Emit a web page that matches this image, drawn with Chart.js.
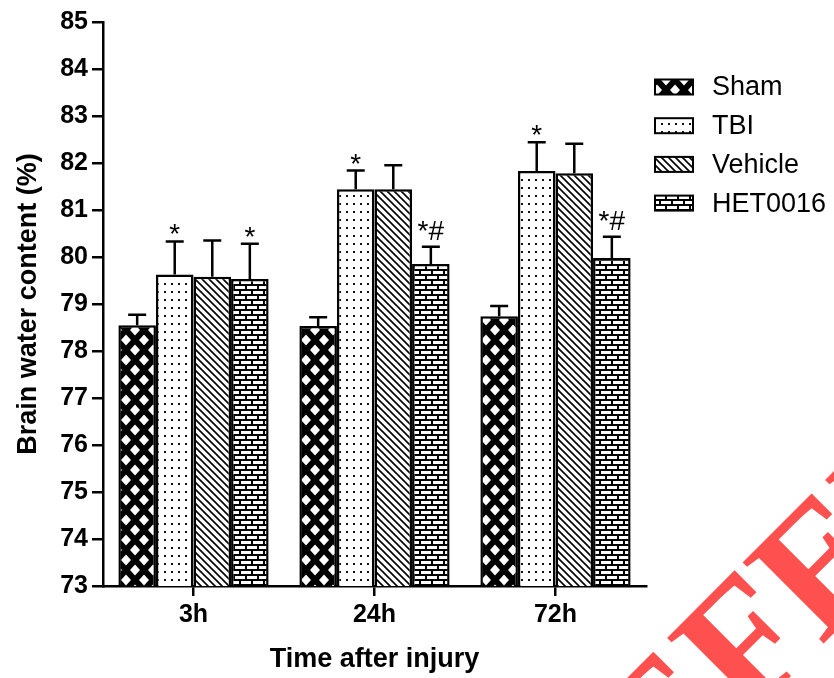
<!DOCTYPE html>
<html>
<head>
<meta charset="utf-8">
<script src="https://cdn.jsdelivr.net/npm/chart.js@4.4.1/dist/chart.umd.min.js"></script>
<style>
  html, body { margin: 0; padding: 0; background: #fff; }
  #wrap { width: 834px; height: 678px; }
</style>
</head>
<body>
<div id="wrap"><canvas id="bar_chart"></canvas></div>
<script>
const timepoints = ["3h", "24h", "72h"];

const shamMean = [78.55, 78.53, 78.74];
const shamErr = [0.22, 0.19, 0.22];
const shamMarks = ["", "", ""];

const tbiMean = [79.63, 81.44, 81.83];
const tbiErr = [0.70, 0.40, 0.61];
const tbiMarks = ["*", "*", "*"];

const vehicleMean = [79.58, 81.44, 81.78];
const vehicleErr = [0.77, 0.51, 0.63];
const vehicleMarks = ["", "", ""];

const hetMean = [79.53, 79.85, 79.98];
const hetErr = [0.75, 0.37, 0.45];
const hetMarks = ["*", "*#", "*#"];

const FONT = "'Liberation Sans', Arial, sans-serif";

function makePattern(w, h, paint) {
  const c = document.createElement("canvas");
  c.width = w;
  c.height = h;
  const g = c.getContext("2d");
  paint(g, w, h);
  return g.createPattern(c, "repeat");
}

// crosshatch: black with white diamonds
const shamFill = makePattern(18, 20, (g, w, h) => {
  g.fillStyle = "#000";
  g.fillRect(0, 0, w, h);
  g.fillStyle = "#fff";
  const dia = (cx, cy) => {
    g.beginPath();
    g.moveTo(cx, cy - 5.5);
    g.lineTo(cx + 5, cy);
    g.lineTo(cx, cy + 5.5);
    g.lineTo(cx - 5, cy);
    g.closePath();
    g.fill();
  };
  [[0, 0], [18, 0], [0, 20], [18, 20], [9, 10]].forEach(([x, y]) => dia(x, y));
});

// dots
const tbiFill = makePattern(7, 8, (g, w, h) => {
  g.fillStyle = "#fff";
  g.fillRect(0, 0, w, h);
  g.fillStyle = "#111";
  g.fillRect(3, 3, 2, 2);
});

// diagonal lines
const vehicleFill = makePattern(7, 7, (g, w, h) => {
  g.fillStyle = "#fff";
  g.fillRect(0, 0, w, h);
  g.strokeStyle = "#000";
  g.lineWidth = 1.6;
  g.beginPath();
  for (const o of [-7, 0, 7]) {
    g.moveTo(o - 1, -1);
    g.lineTo(o + 8, 8);
  }
  g.stroke();
});

// bricks
const hetFill = makePattern(24, 10, (g, w, h) => {
  g.fillStyle = "#000";
  g.fillRect(0, 0, w, h);
  g.fillStyle = "#fff";
  g.fillRect(1, 1, 10, 3);
  g.fillRect(13, 1, 10, 3);
  g.fillRect(0, 6, 5, 3);
  g.fillRect(7, 6, 10, 3);
  g.fillRect(19, 6, 5, 3);
});

const errorBars = {
  id: "errorBars",
  afterDatasetsDraw(chart) {
    const ctx = chart.ctx;
    const y = chart.scales.y;
    ctx.save();
    ctx.strokeStyle = "#000";
    ctx.lineWidth = 2.5;
    ctx.fillStyle = "#000";
    ctx.font = "28px " + FONT;
    ctx.textAlign = "center";
    ctx.textBaseline = "alphabetic";
    chart.data.datasets.forEach((ds, i) => {
      chart.getDatasetMeta(i).data.forEach((bar, j) => {
        const top = y.getPixelForValue(ds.data[j] + ds.err[j]);
        ctx.beginPath();
        ctx.moveTo(bar.x, bar.y);
        ctx.lineTo(bar.x, top);
        ctx.moveTo(bar.x - 9, top);
        ctx.lineTo(bar.x + 9, top);
        ctx.stroke();
        const mark = ds.marks[j];
        if (mark) {
          const m = ctx.measureText(mark);
          ctx.fillText(mark, bar.x, top - 7 - m.actualBoundingBoxDescent);
        }
      });
    });
    ctx.restore();
  }
};

const sideLegend = {
  id: "sideLegend",
  afterDraw(chart) {
    const ctx = chart.ctx;
    ctx.save();
    ctx.font = "27px " + FONT;
    ctx.textBaseline = "middle";
    ctx.textAlign = "left";
    chart.data.datasets.forEach((ds, i) => {
      const yc = 87 + i * 38.7;
      ctx.fillStyle = ds.backgroundColor;
      ctx.fillRect(655, yc - 7.5, 38, 15);
      ctx.strokeStyle = "#000";
      ctx.lineWidth = 2;
      ctx.strokeRect(655, yc - 7.5, 38, 15);
      ctx.fillStyle = "#000";
      ctx.fillText(ds.label, 712, yc + 1);
    });
    ctx.restore();
  }
};

const stamp = {
  id: "stamp",
  afterDraw(chart) {
    const ctx = chart.ctx;
    ctx.save();
    ctx.translate(574, 893);
    ctx.rotate(-Math.PI / 4);
    ctx.font = "bold 175px 'Liberation Serif', serif";
    ctx.fillStyle = "#ff5050";
    ctx.fillText("REFERENCE", 0, 0);
    ctx.restore();
  }
};

const ctx = document.getElementById("bar_chart");

const chart = new Chart(ctx, {
  type: "bar",
  data: {
    labels: timepoints,
    datasets: [
      { label: "Sham", data: shamMean, err: shamErr, marks: shamMarks, backgroundColor: shamFill },
      { label: "TBI", data: tbiMean, err: tbiErr, marks: tbiMarks, backgroundColor: tbiFill },
      { label: "Vehicle", data: vehicleMean, err: vehicleErr, marks: vehicleMarks, backgroundColor: vehicleFill },
      { label: "HET0016", data: hetMean, err: hetErr, marks: hetMarks, backgroundColor: hetFill },
    ].map((d) => ({
      ...d,
      borderColor: "#000",
      borderWidth: 2.5,
      borderSkipped: "bottom",
      categoryPercentage: 0.83,
      barPercentage: 1,
    })),
  },
  options: {
    responsive: true,
    maintainAspectRatio: false,
    animation: false,
    layout: { padding: { left: 0, right: 188, top: 22, bottom: 0 } },
    plugins: {
      legend: { display: false },
      tooltip: { enabled: false },
    },
    scales: {
      x: {
        grid: { drawOnChartArea: false, offset: false, color: "#000", lineWidth: 2.5, tickLength: 10 },
        border: { color: "#000", width: 2.5 },
        ticks: { color: "#000", font: { family: FONT, size: 25, weight: "bold" }, padding: 4 },
        title: {
          display: true,
          text: "Time after injury",
          color: "#000",
          font: { family: FONT, size: 27, weight: "bold" },
          padding: { top: 0, bottom: 2 },
        },
        afterFit(s) { s.height = 92; },
      },
      y: {
        min: 73,
        max: 85,
        grid: { drawOnChartArea: false, color: "#000", lineWidth: 2.5, tickLength: 11 },
        border: { color: "#000", width: 2.5 },
        ticks: { stepSize: 1, color: "#000", font: { family: FONT, size: 25, weight: "bold" }, padding: 4 },
        title: {
          display: true,
          text: "Brain water content (%)",
          color: "#000",
          font: { family: FONT, size: 27, weight: "bold" },
          padding: { top: 12, bottom: 0 },
        },
        afterFit(s) { s.width = 103; },
      },
    },
  },
  plugins: [errorBars, sideLegend, stamp],
});
</script>
</body>
</html>
